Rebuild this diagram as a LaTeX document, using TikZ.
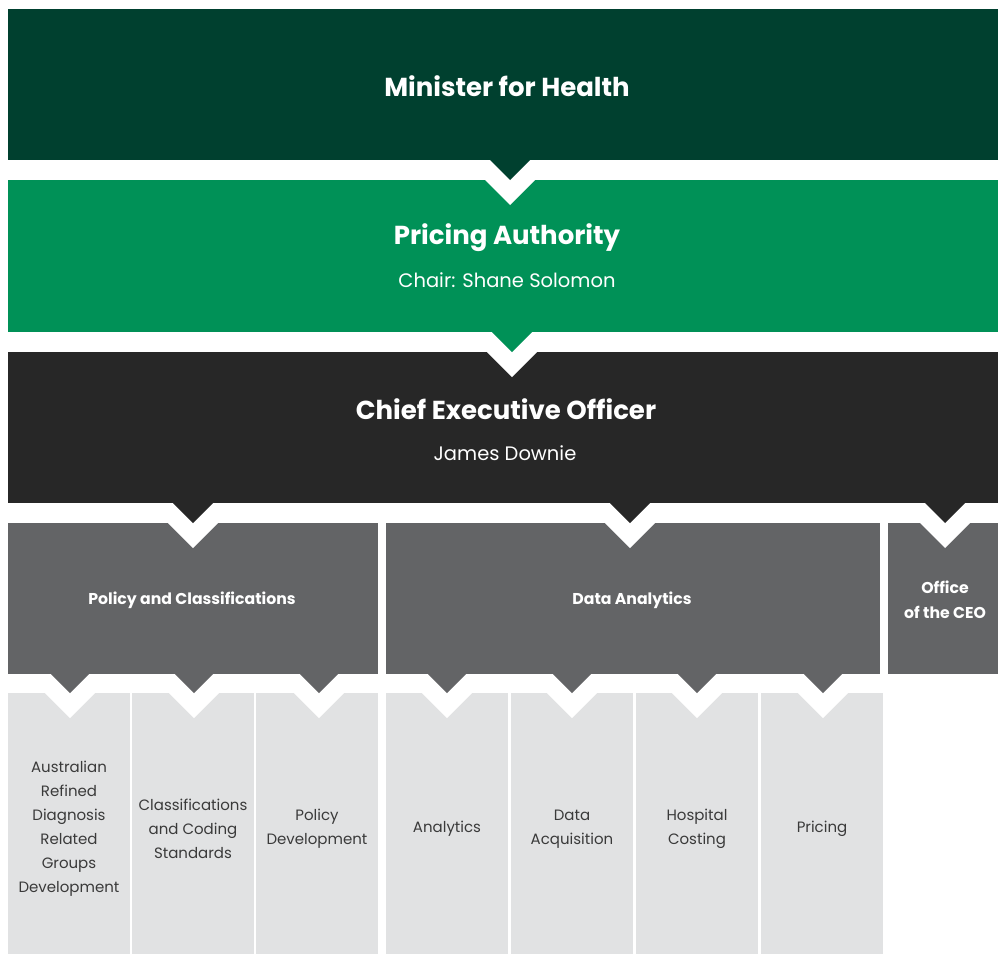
\documentclass[tikz,border=0pt]{standalone}
\usepackage{fontspec}
\setmainfont{Poppins}
\usetikzlibrary{calc}

\definecolor{ministerfill}{HTML}{00402F}
\definecolor{authorityfill}{HTML}{009157}
\definecolor{ceofill}{HTML}{272727}
\definecolor{branchfill}{HTML}{636466}
\definecolor{sectionfill}{HTML}{E1E2E3}
\definecolor{sectiontext}{HTML}{3A3A3A}

\tikzset{
  box/.style={rectangle, inner sep=0pt, outer sep=0pt, anchor=north west, draw=none},
  headtitle/.style={text=white, font=\fontsize{26}{31}\selectfont\bfseries, inner sep=0pt},
  headsub/.style={text=white, font=\fontsize{19.5}{24}\selectfont, inner sep=0pt},
  branchlabel/.style={text=white, font=\fontsize{15.7}{25}\selectfont\bfseries, align=center, inner sep=0pt},
  sectionlabel/.style={text=sectiontext, font=\fontsize{15}{24}\selectfont, align=center, inner sep=0pt},
}

% A chevron from the bottom edge of #1 (colour #3) into a V notch cut in the
% top of #2, at horizontal offset #4 from the centre of #2.
\newcommand\chevronlink[4]{%
  \coordinate (#1-#2-tip) at ([xshift=#4]#2.north);
  \coordinate (#1-#2-base) at (#1-#2-tip |- #1.south);
  \fill[white] ([xshift=-25pt]#1-#2-tip) -- ([yshift=-25pt]#1-#2-tip)
     -- ([xshift=25pt]#1-#2-tip) -- cycle;
  \fill[#3] let \p1=($(#1-#2-base)-(#1-#2-tip)$) in
     ([xshift=-\y1]#1-#2-base) -- (#1-#2-tip) -- ([xshift=\y1]#1-#2-base) -- cycle;
}

\begin{document}
\begin{tikzpicture}[x=1pt, y=-1pt]
\useasboundingbox (0,0) rectangle (998,954);

% Top levels
\node[box, fill=ministerfill, minimum width=990pt, minimum height=151pt] (minister) at (8,9) {};
\node[box, fill=authorityfill, minimum width=990pt, minimum height=152pt] (authority) at (8,180) {};
\node[box, fill=ceofill, minimum width=990pt, minimum height=151pt] (ceo) at (8,352) {};

% Branches
\node[box, fill=branchfill, minimum width=370pt, minimum height=151pt] (policy) at (8,523) {};
\node[box, fill=branchfill, minimum width=494pt, minimum height=151pt] (data) at (386,523) {};
\node[box, fill=branchfill, minimum width=110pt, minimum height=151pt] (office) at (888,523) {};

% Sections
\node[box, fill=sectionfill, minimum width=122pt, minimum height=261pt] (ardrg) at (8,693) {};
\node[box, fill=sectionfill, minimum width=122pt, minimum height=261pt] (coding) at (132,693) {};
\node[box, fill=sectionfill, minimum width=122pt, minimum height=261pt] (poldev) at (256,693) {};
\node[box, fill=sectionfill, minimum width=122pt, minimum height=261pt] (analytics) at (386,693) {};
\node[box, fill=sectionfill, minimum width=122pt, minimum height=261pt] (acquisition) at (511,693) {};
\node[box, fill=sectionfill, minimum width=122pt, minimum height=261pt] (costing) at (636,693) {};
\node[box, fill=sectionfill, minimum width=122pt, minimum height=261pt] (pricing) at (761,693) {};

% Chevrons between levels
\chevronlink{minister}{authority}{ministerfill}{7pt}
\chevronlink{authority}{ceo}{authorityfill}{9pt}
\chevronlink{ceo}{policy}{ceofill}{0pt}
\chevronlink{ceo}{data}{ceofill}{-3pt}
\chevronlink{ceo}{office}{ceofill}{2pt}
\chevronlink{policy}{ardrg}{branchfill}{1pt}
\chevronlink{policy}{coding}{branchfill}{1pt}
\chevronlink{policy}{poldev}{branchfill}{2pt}
\chevronlink{data}{analytics}{branchfill}{0pt}
\chevronlink{data}{acquisition}{branchfill}{0pt}
\chevronlink{data}{costing}{branchfill}{0pt}
\chevronlink{data}{pricing}{branchfill}{1pt}

% Labels
\node[headtitle] (t-minister) at (507,86) {Minister for Health};
\node[headtitle] (t-authority) at (507,238) {Pricing Authority};
\node[headsub] (s-authority) at (507,280) {Chair: Shane Solomon};
\node[headtitle] (t-ceo) at (506,409) {Chief Executive Officer};
\node[headsub] (s-ceo) at (505,453) {James Downie};

\node[branchlabel] (t-policy) at (192,600) {Policy and Classifications};
\node[branchlabel] (t-data) at (632,600) {Data Analytics};
\node[branchlabel] (t-office) at (945,600) {Office\\of the CEO};

\node[sectionlabel] (t-ardrg) at (69,829) {Australian\\Refined\\Diagnosis\\Related\\Groups\\Development};
\node[sectionlabel] (t-coding) at (193,829) {Classifications\\and Coding\\Standards};
\node[sectionlabel] (t-poldev) at (317,829) {Policy\\Development};
\node[sectionlabel] (t-analytics) at (447,829) {Analytics};
\node[sectionlabel] (t-acquisition) at (572,829) {Data\\Acquisition};
\node[sectionlabel] (t-costing) at (697,829) {Hospital\\Costing};
\node[sectionlabel] (t-pricing) at (822,829) {Pricing};
\end{tikzpicture}
\end{document}
